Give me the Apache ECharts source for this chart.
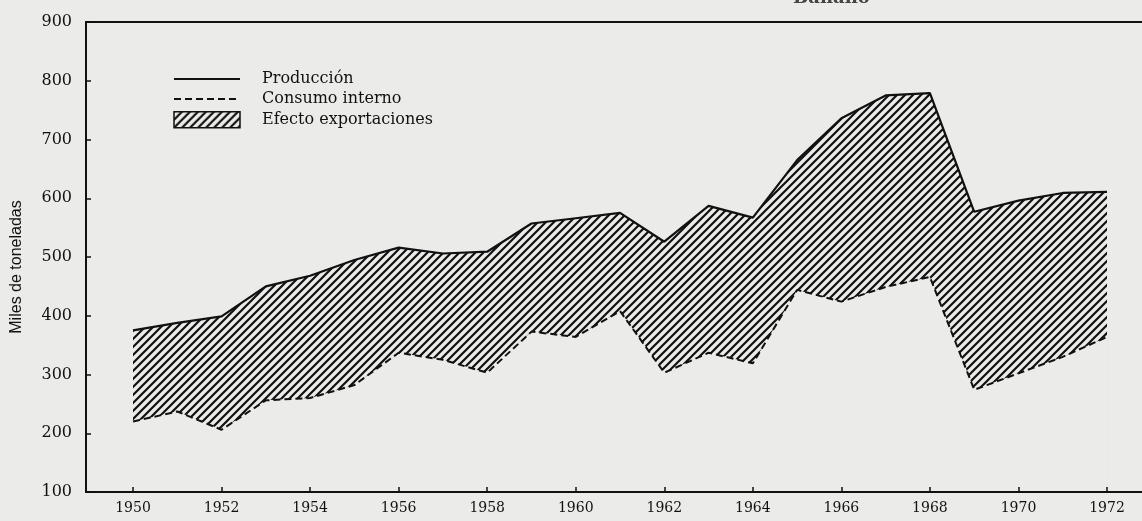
<!DOCTYPE html>
<html>
<head>
<meta charset="utf-8">
<script src="https://cdn.jsdelivr.net/npm/echarts@6/dist/echarts.min.js"></script>
<style>
  html, body { margin: 0; padding: 0; background: #ebebea; }
  #chart { width: 1142px; height: 521px; }
</style>
</head>
<body>
<div id="chart"></div>
<script>
// Banano, 1950-1972 (miles de toneladas)
const years = [1950, 1951, 1952, 1953, 1954, 1955, 1956, 1957, 1958, 1959, 1960, 1961,
  1962, 1963, 1964, 1965, 1966, 1967, 1968, 1969, 1970, 1971, 1972];
const produccion = [375, 388, 399, 450, 468, 495, 516, 506, 509, 557, 566, 575,
  526, 587, 567, 665, 736, 775, 779, 577, 596, 609, 611];
const consumo = [220, 237, 206, 256, 260, 282, 337, 325, 303, 373, 364, 408,
  303, 337, 319, 444, 424, 449, 466, 274, 302, 330, 364];
const yearTicks = [1950, 1952, 1954, 1956, 1958, 1960, 1962, 1964, 1966, 1968, 1970, 1972];

const bg = '#ebebea';
const ink = '#111';

// diagonal hatch tile for the exports band
function hatch() {
  const c = document.createElement('canvas');
  c.width = 8; c.height = 8;
  const g = c.getContext('2d');
  g.fillStyle = bg;
  g.fillRect(0, 0, 8, 8);
  g.strokeStyle = ink;
  g.lineWidth = 2.2;
  g.beginPath();
  g.moveTo(-2, 10); g.lineTo(10, -2);
  g.moveTo(-2, 2); g.lineTo(2, -2);
  g.moveTo(6, 10); g.lineTo(10, 6);
  g.stroke();
  return c;
}
const pattern = { image: hatch(), repeat: 'repeat' };

const pts = (arr) => years.map((y, i) => [y, arr[i]]);

const chart = echarts.init(document.getElementById('chart'));
chart.setOption({
  backgroundColor: bg,
  animation: false,
  title: {
    text: 'Banano',
    left: 793, top: -11, padding: 0,
    textStyle: { fontFamily: 'DejaVu Serif', fontSize: 18, fontWeight: 'bold', color: '#444' }
  },
  legend: {
    orient: 'vertical',
    left: 173, top: 71, padding: 0,
    itemWidth: 66, itemHeight: 16, itemGap: 4,
    textStyle: { fontFamily: 'DejaVu Serif', fontSize: 16, color: ink, padding: [0, 0, 0, 17] },
    data: [
      { name: 'Producción', itemStyle: { opacity: 0 } },
      { name: 'Consumo interno', itemStyle: { opacity: 0 } },
      { name: 'Efecto exportaciones', icon: 'rect',
        itemStyle: { color: pattern, borderColor: ink, borderWidth: 1.5 } }
    ]
  },
  grid: { left: 86, right: 0, top: 22, bottom: 29 },
  xAxis: [{
    type: 'value',
    min: 1948.938, max: 1972.79,
    z: 10,
    splitLine: { show: false },
    axisLine: { lineStyle: { color: ink, width: 2 } },
    axisTick: { inside: true, length: 5, customValues: yearTicks, lineStyle: { color: ink, width: 1.5 } },
    axisLabel: {
      customValues: yearTicks, margin: 9,
      fontFamily: 'DejaVu Serif', fontSize: 14, color: ink,
      formatter: (v) => String(v)
    }
  }, {
    // top frame line
    type: 'value', position: 'top',
    min: 1948.938, max: 1972.79,
    splitLine: { show: false },
    axisLine: { show: true, lineStyle: { color: ink, width: 2 } },
    axisTick: { show: false },
    axisLabel: { show: false }
  }],
  yAxis: {
    type: 'value',
    min: 100, max: 900, interval: 100,
    z: 10,
    splitLine: { show: false },
    axisLine: { show: true, lineStyle: { color: ink, width: 2 } },
    axisTick: { show: true, inside: true, length: 5, lineStyle: { color: ink, width: 1.5 } },
    axisLabel: { margin: 14, fontFamily: 'DejaVu Serif', fontSize: 16, color: ink }
  },
  graphic: [{
    type: 'text',
    x: 9, y: 267, rotation: Math.PI / 2,
    style: {
      text: 'Miles de toneladas', align: 'center', verticalAlign: 'top',
      font: '16px "Liberation Sans"', fill: ink
    }
  }],
  series: [
    {
      // hatched band: production area, cut below by the consumption fill
      name: 'Efecto exportaciones',
      type: 'line',
      data: pts(produccion),
      symbol: 'none',
      lineStyle: { width: 0, color: ink },
      itemStyle: { color: pattern, borderColor: ink },
      areaStyle: { color: pattern, opacity: 1, origin: 'start' },
      z: 2
    },
    {
      name: 'Consumo interno',
      type: 'line',
      data: pts(consumo),
      symbol: 'none',
      lineStyle: { color: ink, width: 2, type: [7, 4] },
      itemStyle: { color: ink },
      areaStyle: { color: bg, opacity: 1, origin: 'start' },
      z: 3
    },
    {
      name: 'Producción',
      type: 'line',
      data: pts(produccion),
      symbol: 'none',
      lineStyle: { color: ink, width: 2.2 },
      itemStyle: { color: ink },
      z: 5
    }
  ]
});
</script>
</body>
</html>
